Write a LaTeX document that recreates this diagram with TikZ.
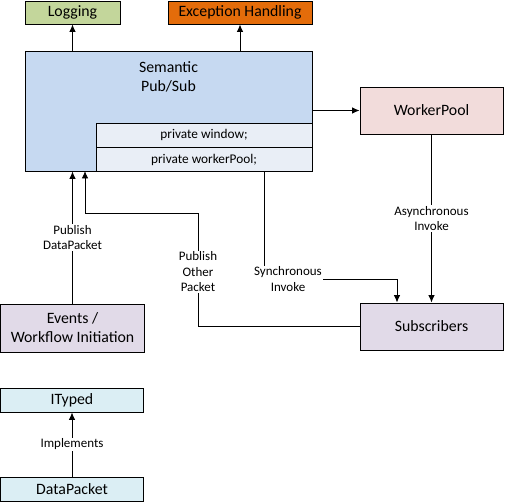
\documentclass[tikz,border=0pt]{standalone}
\usepackage{fontspec}
\setmainfont{Carlito}
\usepackage{tikz}
\usetikzlibrary{arrows.meta,positioning}

\definecolor{cLog}{HTML}{C3D69B}
\definecolor{cExc}{HTML}{E46C0A}
\definecolor{cPs}{HTML}{C6D9F1}
\definecolor{cPsIn}{HTML}{E9EEF6}
\definecolor{cWp}{HTML}{F2DCDB}
\definecolor{cSub}{HTML}{E1DAE8}
\definecolor{cTy}{HTML}{DBEEF4}

\begin{document}
\begin{tikzpicture}[x=1pt,y=-1pt,line width=0.9pt,>={Latex[length=7.5pt,width=6.5pt]},
  box/.style={draw,inner sep=0pt,align=center,font=\fontsize{15.8}{19}\selectfont},
  field/.style={draw,fill=cPsIn,inner sep=0pt,minimum width=216,minimum height=24,font=\fontsize{13.3}{15}\selectfont},
  lbl/.style={fill=white,inner sep=1pt,align=center,font=\fontsize{13}{15.5}\selectfont}]
\useasboundingbox (0,0) rectangle (505,502);
\node[box,fill=cLog,minimum width=95,minimum height=23] (log) at (72.5,12.5) {Logging};
\node[box,fill=cExc,minimum width=144,minimum height=23] (exc) at (240,12.5) {Exception Handling};
\node[box,fill=cPs,minimum width=287,minimum height=120,
  label={[anchor=north,align=center,yshift=-7pt,font=\fontsize{15.8}{19}\selectfont]north:Semantic\\Pub/Sub}] (ps) at (168.5,111) {};
\node[field] (ps_w) at (204,135) {private window;};
\node[field] (ps_p) [below=0pt of ps_w] {private workerPool;};
\node[box,fill=cWp,minimum width=143,minimum height=47] (wp) at (431.5,110.5) {WorkerPool};
\node[box,fill=cSub,minimum width=143,minimum height=47] (subs) at (431.5,326.5) {Subscribers};
\node[box,fill=cSub,minimum width=144,minimum height=48] (ev) at (72.5,328) {Events /\\Workflow Initiation};
\node[box,fill=cTy,minimum width=143,minimum height=24] (it) at (72,400) {ITyped};
\node[box,fill=cTy,minimum width=143,minimum height=24] (dp) at (72,489) {DataPacket};
\coordinate (sync) at (264,279);
\coordinate (pop) at (198,213);
\coordinate (ps_in) at (85,171);
% connectors
\draw[->] (ps.north -| log) -- (log);
\draw[->] (ps.north -| exc) -- (exc);
\draw[->] (ps.east |- wp) -- (wp);
\draw[->] (wp) -- node[lbl] {Asynchronous\\Invoke} (subs);
\draw[->] (ps_p.south -| sync) -- (sync) -| ([xshift=-34.5pt]subs.north);
\node[lbl] (l_sync) at (288,279) {Synchronous\\Invoke};
\draw[->] (subs.west) -| (pop) -| (ps_in);
\node[lbl] (l_pop) at (198,272) {Publish\\Other\\Packet};
\draw[->] (ev) -- node[lbl] {Publish\\DataPacket} (ev |- ps.south);
\draw[->] (dp) -- node[lbl] {Implements} (it);
\end{tikzpicture}
\end{document}
